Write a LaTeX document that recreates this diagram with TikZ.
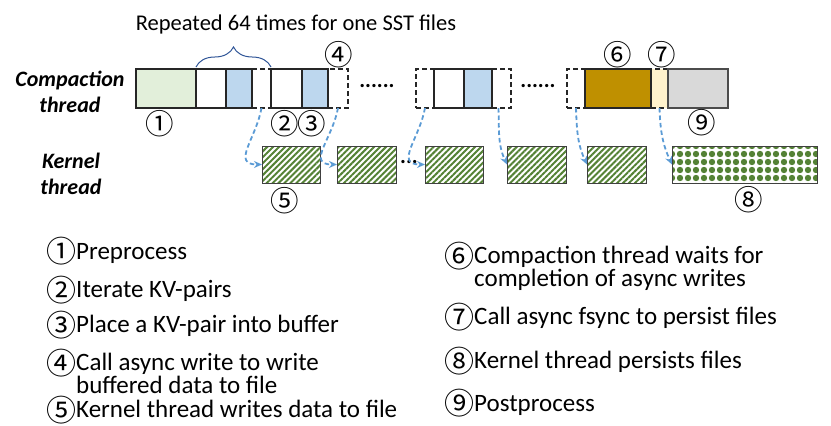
\documentclass[tikz,border=0pt]{standalone}
\usepackage{fontspec}
\setmainfont{Carlito}
\newfontfamily\cjk{Noto Sans CJK JP}
\usetikzlibrary{positioning,patterns.meta,decorations.pathreplacing,arrows.meta}
\definecolor{prefill}{HTML}{E2EFDA}
\definecolor{kvfill}{HTML}{BDD7EE}
\definecolor{waitfill}{HTML}{BF9000}
\definecolor{syncfill}{HTML}{FFF2CC}
\definecolor{postfill}{HTML}{D9D9D9}
\definecolor{kgreen}{HTML}{548235}
\definecolor{arrowblue}{HTML}{5B9BD5}
\definecolor{braceblue}{HTML}{2F5597}
\newcommand{\cnum}[1]{\smash{\raisebox{-3.5pt}{\fontsize{30}{24}\selectfont\cjk #1}}}

\begin{document}
\begin{tikzpicture}[x=1pt, y=-1pt,
    slot/.style = {draw=black!85, line width=1.2pt, minimum height=39pt, inner sep=0pt, outer sep=0pt},
    wslot/.style = {slot, dash pattern=on 5pt off 3pt},
    kbox/.style = {draw=black!75, line width=1pt, minimum height=37pt, inner sep=0pt, outer sep=0pt},
    wbox/.style = {kbox, pattern={Lines[angle=45, distance=4.2pt, line width=2pt]}, pattern color=kgreen},
    pbox/.style = {kbox, pattern={Dots[radius=3.2pt, distance=8pt]}, pattern color=kgreen},
    num/.style = {font=\fontsize{28.5}{28}\selectfont\cjk, inner sep=0pt},
    lab/.style = {font=\fontsize{22}{26}\selectfont\bfseries\itshape, align=center, inner sep=0pt},
    leg/.style = {font=\fontsize{25}{23}\selectfont, align=left, anchor=west, inner sep=0pt},
    call/.style = {draw=arrowblue, dash pattern=on 4.5pt off 3pt, line width=1.8pt, -{Stealth[length=8pt, width=7pt]}}]
    \useasboundingbox (0,0) rectangle (831,426);

    % compaction thread
    \node[slot, fill=prefill, minimum width=60pt] (pre) at (166,88.5) {};
    \node[slot, minimum width=30pt] (it1) [right=0pt of pre] {};
    \node[slot, fill=kvfill, minimum width=26pt] (kv1) [right=0pt of it1] {};
    \node[wslot, minimum width=19pt] (aw1) [right=0pt of kv1] {};
    \node[slot, minimum width=31pt] (it2) [right=0pt of aw1] {};
    \node[slot, fill=kvfill, minimum width=26pt] (kv2) [right=0pt of it2] {};
    \node[wslot, minimum width=20pt] (aw2) [right=0pt of kv2] {};
    \node[wslot, minimum width=18pt] (aw3) [right=68pt of aw2] {};
    \node[slot, minimum width=30pt] (it3) [right=0pt of aw3] {};
    \node[slot, fill=kvfill, minimum width=28pt] (kv3) [right=0pt of it3] {};
    \node[wslot, minimum width=19pt] (aw4) [right=0pt of kv3] {};
    \node[wslot, minimum width=18pt] (aw5) [right=56pt of aw4] {};
    \node[wslot, fill=syncfill, minimum width=17pt] (sync) at (659.5,88.5) {};
    \node[slot, fill=waitfill, minimum width=66pt] (wait) [right=0pt of aw5] {};
    \node[slot, draw=black!70, fill=postfill, minimum width=60pt] (post) [right=0pt of sync] {};
    \node[font=\fontsize{22}{22}\selectfont\bfseries] (dots1) at (377,86) {......};
    \node[font=\fontsize{22}{22}\selectfont\bfseries] (dots2) at (538,86) {......};

    % kernel thread
    \node[wbox, minimum width=58pt] (kw1) at (291,164.5) {};
    \node[wbox, minimum width=59pt] (kw2) [right=17pt of kw1] {};
    \node[wbox, minimum width=58pt] (kw3) at (454,164.5) {};
    \node[wbox, minimum width=59pt] (kw4) [right=24pt of kw3] {};
    \node[wbox, minimum width=59pt] (kw5) [right=21pt of kw4] {};
    \node[pbox, minimum width=145pt] (kp) at (744.5,164.5) {};
    \node[font=\fontsize{22}{22}\selectfont\bfseries] (dots3) at (409,162) {...};

    \node[lab] (ct) at (70,92) {Compaction\\thread};
    \node[lab] (kt) at (71,174) {Kernel\\thread};

    % brace
    \draw[braceblue, line width=1pt, decorate, decoration={brace, amplitude=20pt}]
        ([yshift=2pt]it1.north west) -- ([yshift=2pt]aw1.north east);
    \node[font=\fontsize{22.5}{22}\selectfont] (rep) at (296,24) {Repeated 64 times for one SST files};

    % numbers
    \node[num] (n1) at (160,124) {①};
    \node[num] (n2) at (285,124) {②};
    \node[num] (n3) at (312,124) {③};
    \node[num] (n4) at (339,55) {④};
    \node[num] (n5) at (285,201) {⑤};
    \node[num] (n6) at (618,55) {⑥};
    \node[num] (n7) at (662,55) {⑦};
    \node[num] (n8) at (749,200) {⑧};
    \node[num] (n9) at (702,123) {⑨};

    % async calls
    \draw[call] (aw1.south) to[out=-100, in=180, looseness=1.4] (kw1.west);
    \draw[call] (aw2.south) to[out=-100, in=180, looseness=1.4] (kw2.west);
    \draw[call] (aw3.south) to[out=-100, in=180, looseness=1.4] (kw3.west);
    \draw[call] ([xshift=-3pt]aw4.south) to[out=-88, in=115] (kw4.west);
    \draw[call] (aw5.south) to[out=-88, in=115] (kw5.west);
    \draw[call] (sync.south) to[out=-88, in=115] (kp.west);

    % legend
    \node[leg] (l1) at (46,253) {\cnum{①}Preprocess};
    \node[leg] (l2) at (46,291) {\cnum{②}Iterate KV-pairs};
    \node[leg] (l3) at (46,326) {\cnum{③}Place a KV-pair into buffer};
    \node[leg] (l4) at (46,373.5) {\cnum{④}Call async write to write\\\hphantom{\cnum{④}}buffered data to file};
    \node[leg] (l5) at (46,409) {\cnum{⑤}Kernel thread writes data to file};
    \node[leg] (l6) at (444,268.5) {\cnum{⑥}Compaction thread waits for\\\hphantom{\cnum{⑥}}completion of async writes};
    \node[leg] (l7) at (444,318) {\cnum{⑦}Call async fsync to persist files};
    \node[leg] (l8) at (444,362) {\cnum{⑧}Kernel thread persists files};
    \node[leg] (l9) at (444,405) {\cnum{⑨}Postprocess};
\end{tikzpicture}
\end{document}
